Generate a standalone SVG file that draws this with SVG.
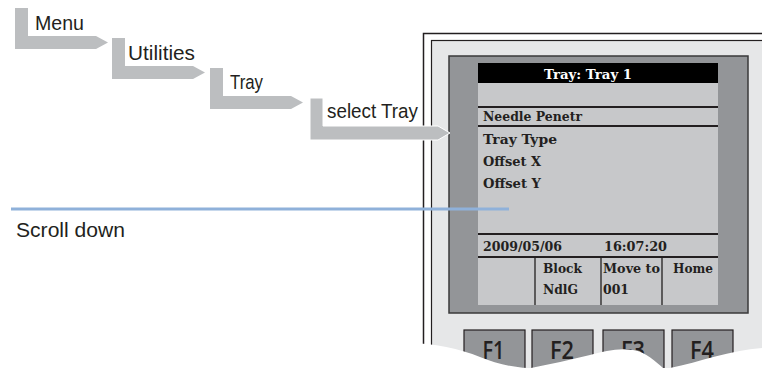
<svg xmlns="http://www.w3.org/2000/svg" width="762" height="368" viewBox="0 0 762 368">
<style>
.lbl{font-family:"Liberation Sans",Arial,sans-serif;font-size:20.5px;fill:#231f20}
.scr{font-family:"DejaVu Serif","Liberation Serif",serif;font-size:12.5px;font-weight:bold;fill:#231f20}
.key{font-family:"Open Sans","Noto Sans",sans-serif;font-size:26px;font-weight:600;fill:#231f20}
.arrow{fill:#bcbec0}
.rule{stroke:#231f20;stroke-width:2;fill:none}
.div{stroke:#231f20;stroke-width:1.3;fill:none}
.keybox{fill:#939598;stroke:#231f20;stroke-width:1.2}
</style>
<rect width="762" height="368" fill="#ffffff"/>
<g id="device">
  <rect x="423.5" y="33.5" width="400" height="400" fill="#ffffff" stroke="#231f20" stroke-width="1.5"/>
  <rect x="431.5" y="40.5" width="400" height="400" fill="#e6e7e8" stroke="#231f20" stroke-width="1.2"/>
  <rect x="449" y="56" width="299" height="257" fill="#939598" stroke="#3a3a3a" stroke-width="1.5"/>
  <rect x="478" y="63" width="240" height="242" fill="#c7c8ca"/>
  <rect x="478" y="63" width="240" height="20" fill="#000000"/>
  <text x="588" y="79" class="scr" style="fill:#ffffff" text-anchor="middle" textLength="88" lengthAdjust="spacingAndGlyphs">Tray: Tray 1</text>
  <line x1="478" y1="107" x2="718" y2="107" class="rule"/>
  <line x1="478" y1="126" x2="718" y2="126" class="rule"/>
  <text x="483" y="121" class="scr" textLength="99" lengthAdjust="spacingAndGlyphs">Needle Penetr</text>
  <text x="483" y="144" class="scr" textLength="74" lengthAdjust="spacingAndGlyphs">Tray Type</text>
  <text x="483" y="166" class="scr" textLength="58" lengthAdjust="spacingAndGlyphs">Offset X</text>
  <text x="483" y="188" class="scr" textLength="58" lengthAdjust="spacingAndGlyphs">Offset Y</text>
  <line x1="478" y1="234" x2="718" y2="234" class="rule"/>
  <line x1="478" y1="257" x2="718" y2="257" class="rule"/>
  <text x="483" y="251" class="scr" textLength="79" lengthAdjust="spacingAndGlyphs">2009/05/06</text>
  <text x="604" y="251" class="scr" textLength="63" lengthAdjust="spacingAndGlyphs">16:07:20</text>
  <line x1="535" y1="257" x2="535" y2="305" class="div"/>
  <line x1="601" y1="257" x2="601" y2="305" class="div"/>
  <line x1="662" y1="257" x2="662" y2="305" class="div"/>
  <text x="543" y="273" class="scr" textLength="39" lengthAdjust="spacingAndGlyphs">Block</text>
  <text x="543" y="294" class="scr" textLength="35" lengthAdjust="spacingAndGlyphs">NdlG</text>
  <text x="603" y="273" class="scr" textLength="57" lengthAdjust="spacingAndGlyphs">Move to</text>
  <text x="603" y="294" class="scr" textLength="26" lengthAdjust="spacingAndGlyphs">001</text>
  <text x="673" y="273" class="scr" textLength="40" lengthAdjust="spacingAndGlyphs">Home</text>
</g>
<g id="keys">
  <g id="key-f1"><rect x="464" y="330" width="61" height="50" class="keybox"/><text x="493.5" y="359" class="key" text-anchor="middle" textLength="22" lengthAdjust="spacingAndGlyphs">F1</text></g>
  <g id="key-f2"><rect x="532" y="330" width="61" height="50" class="keybox"/><text x="562" y="359" class="key" text-anchor="middle" textLength="24" lengthAdjust="spacingAndGlyphs">F2</text></g>
  <g id="key-f3"><rect x="603" y="330" width="61" height="50" class="keybox"/><text x="633" y="359" class="key" text-anchor="middle" textLength="24" lengthAdjust="spacingAndGlyphs">F3</text></g>
  <g id="key-f4"><rect x="672" y="330" width="61" height="50" class="keybox"/><text x="702" y="359" class="key" text-anchor="middle" textLength="24" lengthAdjust="spacingAndGlyphs">F4</text></g>
</g>
<path d="M 405 343 C 435 343, 460 349, 480 357 C 495 363, 510 367, 528 368 L 531 368 C 550 364, 570 360, 590 355 C 605 351, 618 348, 633 350 C 646 352, 656 362, 663 368 L 670 368 C 700 362, 730 350, 762 348 L 762 368 L 405 368 Z" fill="#ffffff"/>
<g id="connectors">
  <path class="arrow" d="M15 8 H28 V36 H96 L108 42.5 L96 49 H15 Z"/>
  <path class="arrow" d="M112 38 H125 V66 H193 L205 72.5 L193 79 H112 Z"/>
  <path class="arrow" d="M210 68 H223 V96 H291 L303 102.5 L291 109 H210 Z"/>
  <path class="arrow" d="M310 98 H323 V126 H438 L450 133 L438 140 H310 Z" stroke="#ffffff" stroke-width="1"/>
  <line x1="11" y1="209" x2="509" y2="209" stroke="#8fb1da" stroke-width="3"/>
</g>
<g id="menu"><text x="35" y="30" class="lbl" textLength="49" lengthAdjust="spacingAndGlyphs">Menu</text></g>
<g id="utilities"><text x="128" y="60" class="lbl" textLength="67" lengthAdjust="spacingAndGlyphs">Utilities</text></g>
<g id="tray"><text x="230" y="89" class="lbl" textLength="33" lengthAdjust="spacingAndGlyphs">Tray</text></g>
<g id="select-tray"><text x="327" y="118" class="lbl" textLength="91" lengthAdjust="spacingAndGlyphs">select Tray</text></g>
<g id="scroll-down"><text x="16" y="237" class="lbl" textLength="109" lengthAdjust="spacingAndGlyphs">Scroll down</text></g>
</svg>
